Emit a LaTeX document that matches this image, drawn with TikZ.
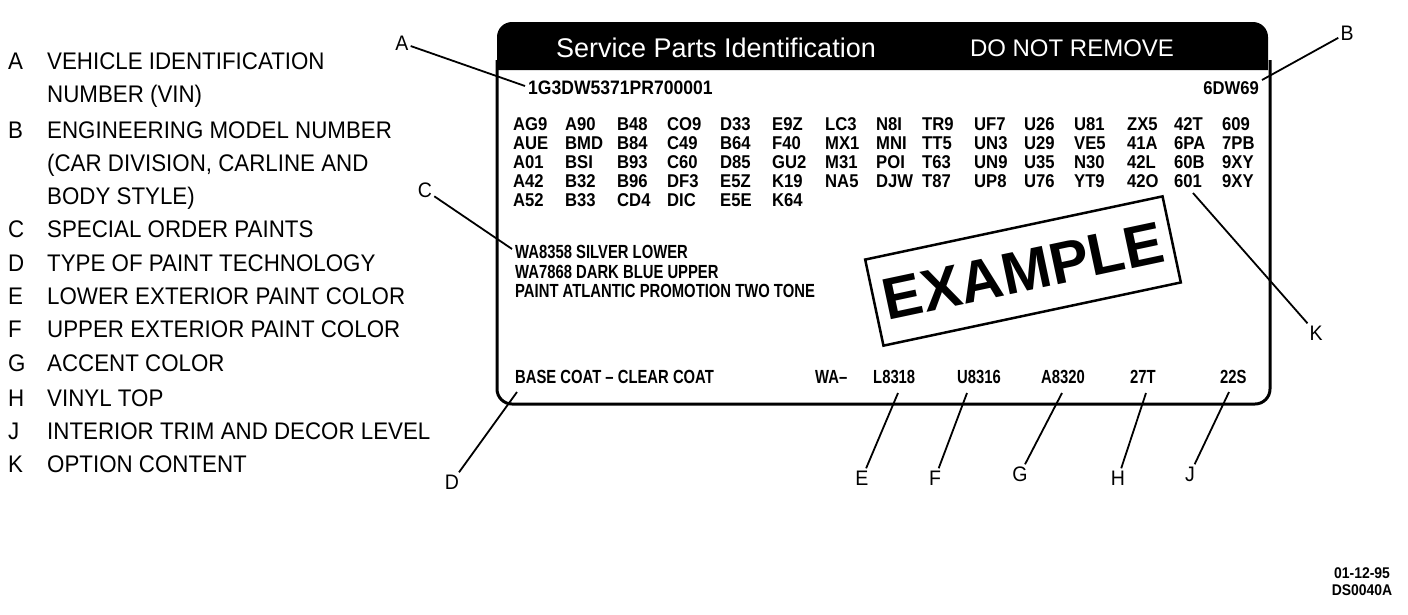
\documentclass[tikz,border=0pt]{standalone}
\usepackage{fontspec}
\setmainfont{Liberation Sans}
\newfontfamily\legfont{Liberation Sans}[FakeStretch=0.93,Ligatures=TeX]
\newfontfamily\condA{Liberation Sans}[FakeStretch=0.9,Ligatures=TeX]
\newfontfamily\condB{Liberation Sans}[FakeStretch=0.78,Ligatures=TeX]
\begin{document}
\begin{tikzpicture}[x=1pt,y=-1pt,
  leg/.style={anchor=west, inner sep=0pt, font=\legfont\fontsize{24}{24}\selectfont, text height=17pt, text depth=0pt},
  callletter/.style={inner sep=2pt, font=\legfont\fontsize{21}{21}\selectfont, text height=15pt, text depth=0pt},
  code/.style={anchor=west, inner sep=0pt, font=\condA\bfseries\fontsize{18.5}{18.5}\selectfont, text height=13.2pt, text depth=0pt},
  small/.style={anchor=west, inner sep=0pt, font=\condB\bfseries\fontsize{19}{19}\selectfont, text height=13.6pt, text depth=0pt},
  header/.style={text=white, inner sep=0pt, font=\fontsize{27}{27}\selectfont},
  callout/.style={line width=1.8pt},
  outline/.style={line width=3pt, rounded corners=15pt}
]
\fill[white] (0,0) rectangle (1408,614);
\useasboundingbox (0,0) rectangle (1408,614);

% ---------- legend ----------
\node[leg] (lA) at (8,61) {A};   \node[leg] (tA1) at (47,61) {VEHICLE IDENTIFICATION};
\node[leg] (tA2) at (47,94) {NUMBER (VIN)};
\node[leg] (lB) at (8,130) {B};  \node[leg] (tB1) at (47,130) {ENGINEERING MODEL NUMBER};
\node[leg] (tB2) at (47,163) {(CAR DIVISION, CARLINE AND};
\node[leg] (tB3) at (47,196) {BODY STYLE)};
\node[leg] (lC) at (8,229) {C};  \node[leg] (tC) at (47,229) {SPECIAL ORDER PAINTS};
\node[leg] (lD) at (8,263) {D};  \node[leg] (tD) at (47,263) {TYPE OF PAINT TECHNOLOGY};
\node[leg] (lE) at (8,296) {E};  \node[leg] (tE) at (47,296) {LOWER EXTERIOR PAINT COLOR};
\node[leg] (lF) at (8,329) {F};  \node[leg] (tF) at (47,329) {UPPER EXTERIOR PAINT COLOR};
\node[leg] (lG) at (8,363) {G};  \node[leg] (tG) at (47,363) {ACCENT COLOR};
\node[leg] (lH) at (8,398) {H};  \node[leg] (tH) at (47,398) {VINYL TOP};
\node[leg] (lJ) at (8,431) {J};  \node[leg] (tJ) at (47,431) {INTERIOR TRIM AND DECOR LEVEL};
\node[leg] (lK) at (8,464) {K};  \node[leg] (tK) at (47,464) {OPTION CONTENT};

% ---------- label outline ----------
\fill[rounded corners=15pt] (497,70) -- (497,22) -- (1268,22) -- (1268,70);
\draw[outline] (497,60) -- (497,404) -- (1270,404) -- (1270,60);
\node[header] (hdr1) at (716,48) {Service Parts Identification};
\node[header, font=\fontsize{24}{24}\selectfont] (hdr2) at (1072,48) {DO NOT REMOVE};

% ---------- label contents ----------
\node[code, font=\condA\bfseries\fontsize{19.5}{19.5}\selectfont] (vin) at (528,88) {1G3DW5371PR700001};
\node[code, anchor=east] (model) at (1259,88) {6DW69};

\foreach \y/\row in {
  124/{AG9,A90,B48,CO9,D33,E9Z,LC3,N8I,TR9,UF7,U26,U81,ZX5,42T,609},
  143/{AUE,BMD,B84,C49,B64,F40,MX1,MNI,TT5,UN3,U29,VE5,41A,6PA,7PB},
  162/{A01,BSI,B93,C60,D85,GU2,M31,POI,T63,UN9,U35,N30,42L,60B,9XY},
  181/{A42,B32,B96,DF3,E5Z,K19,NA5,DJW,T87,UP8,U76,YT9,42O,601,9XY},
  200/{A52,B33,CD4,DIC,E5E,K64}}{
  \foreach \c [count=\i] in \row {
    \pgfmathsetmacro\xx{{513,565,617,667,720,772,825,876,922,974,1024,1074,1127,1174,1222}[\i-1]}
    \node[code] (k\i-\y) at (\xx,\y) {\c};
  }
}

\node[small] (p1) at (515,252) {WA8358 SILVER LOWER};
\node[small] (p2) at (515,272) {WA7868 DARK BLUE UPPER};
\node[small] (p3) at (515,291) {PAINT ATLANTIC PROMOTION TWO TONE};

\node[small] (base) at (515,377) {BASE COAT – CLEAR COAT};
\node[small] (wa) at (815,377) {WA–};
\node[small] (vE) at (873,377) {L8318};
\node[small] (vF) at (957,377) {U8316};
\node[small] (vG) at (1041,377) {A8320};
\node[small] (vH) at (1130,377) {27T};
\node[small] (vJ) at (1220,377) {22S};

% ---------- stamp ----------
\node[draw, line width=2.5pt, rotate=12, minimum width=304pt, minimum height=88pt,
      inner sep=0pt, font=\bfseries\fontsize{59}{59}\selectfont] (stamp) at (1023,271) {EXAMPLE};

% ---------- callouts ----------
\node[callletter] (cA) at (402,43) {A};
\node[callletter] (cB) at (1347,33) {B};
\node[callletter] (cC) at (425,190) {C};
\node[callletter] (cD) at (452,482) {D};
\node[callletter] (cE) at (862,478) {E};
\node[callletter] (cF) at (935,478) {F};
\node[callletter] (cG) at (1020,474) {G};
\node[callletter] (cH) at (1118,478) {H};
\node[callletter] (cJ) at (1190,474) {J};
\node[callletter] (cK) at (1316,333) {K};

\coordinate (pA) at (525,86);
\coordinate (pB) at (1262,80);
\coordinate (pC) at (512,249);
\coordinate (pD) at (517,392);
\coordinate (pE) at (898,393);
\coordinate (pF) at (967,393);
\coordinate (pG) at (1062,393);
\coordinate (pH) at (1146,393);
\coordinate (pJ) at (1229,392);
\coordinate (pK) at (1193,193);

\draw[callout] (cA) -- (pA);
\draw[callout] (cB) -- (pB);
\draw[callout] (cC) -- (pC);
\draw[callout] (cD) -- (pD);
\draw[callout] (cE) -- (pE);
\draw[callout] (cF) -- (pF);
\draw[callout] (cG) -- (pG);
\draw[callout] (cH) -- (pH);
\draw[callout] (cJ) -- (pJ);
\draw[callout] (cK) -- (pK);

% ---------- reference ----------
\node[small, anchor=center, font=\condA\bfseries\fontsize{15.5}{15.5}\selectfont] (date) at (1362,572) {01-12-95};
\node[small, anchor=center, font=\condA\bfseries\fontsize{15.5}{15.5}\selectfont] (ref) at (1362,589) {DS0040A};
\end{tikzpicture}
\end{document}
